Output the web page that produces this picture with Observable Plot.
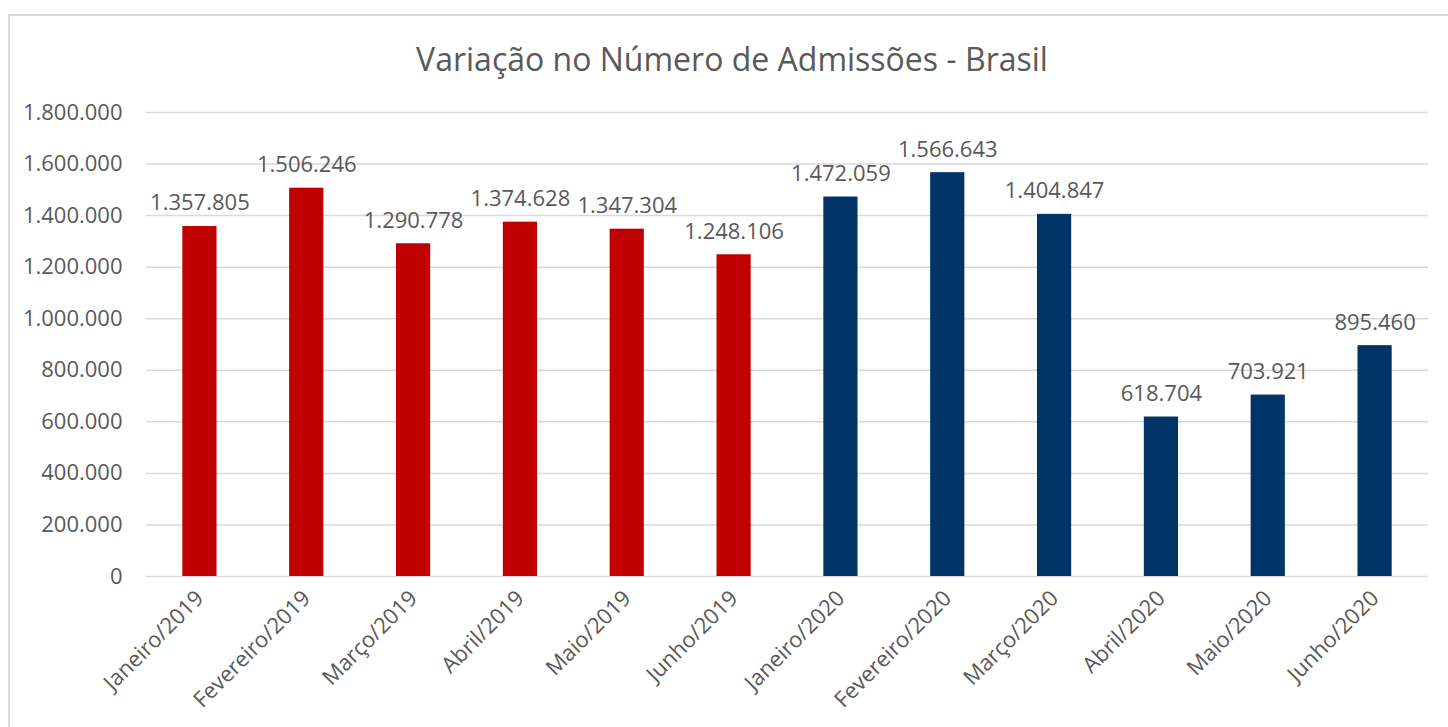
<!DOCTYPE html>
<html>
<head>
<meta charset="utf-8">
<script src="https://cdn.jsdelivr.net/npm/d3@7"></script>
<script src="https://cdn.jsdelivr.net/npm/@observablehq/plot@0.6"></script>
<style>
  html, body { margin: 0; padding: 0; background: #fff; overflow: hidden; }
  #frame { position: absolute; left: 8px; top: 14px; width: 1460px; height: 760px; border: 2px solid #d9d9d9; box-sizing: border-box; }
  #title { position: absolute; left: 0; top: 37px; width: 1464px; text-align: center; font-family: "Open Sans", sans-serif; font-size: 32px; color: #595959; }
  #chart { position: absolute; left: 0; top: 90px; }
</style>
</head>
<body>
<div id="frame"></div>
<div id="title">Variação no Número de Admissões - Brasil</div>
<div id="chart"></div>
<script>
const months = ["Janeiro/2019","Fevereiro/2019","Março/2019","Abril/2019","Maio/2019","Junho/2019",
                "Janeiro/2020","Fevereiro/2020","Março/2020","Abril/2020","Maio/2020","Junho/2020"];
const values = [1357805, 1506246, 1290778, 1374628, 1347304, 1248106,
                1472059, 1566643, 1404847, 618704, 703921, 895460];
const years = ["2019","2019","2019","2019","2019","2019","2020","2020","2020","2020","2020","2020"];
const yTicks = [0, 200000, 400000, 600000, 800000, 1000000, 1200000, 1400000, 1600000, 1800000];
const yearColors = ["#C00000", "#003366"];

const data = months.map((m, i) => ({month: m, value: values[i], year: years[i]}));
const locale = d3.formatLocale({decimal: ",", thousands: ".", grouping: [3], currency: ["", ""]});
const fmt = locale.format(",d");

const plot = Plot.plot({
  width: 1448,
  height: 637,
  marginTop: 22,
  marginBottom: 151,
  marginLeft: 146,
  marginRight: 20,
  style: {fontFamily: "'Open Sans', sans-serif", fontSize: "22px", color: "#595959", background: "transparent"},
  x: {type: "band", domain: months, paddingInner: 0.68, paddingOuter: 0.34, round: false, label: null},
  y: {domain: [0, 1800000], label: null},
  color: {domain: ["2019", "2020"], range: yearColors},
  marks: [
    Plot.gridY(yTicks, {stroke: "#d9d9d9", strokeOpacity: 1, strokeWidth: 1.5}),
    Plot.barY(data, {x: "month", y: "value", fill: "year"}),
    Plot.text(data, {x: "month", y: "value", text: d => fmt(d.value), dy: -16, lineAnchor: "bottom", fill: "#595959", fontSize: 22}),
    Plot.axisY({ticks: yTicks, tickFormat: fmt, tickSize: 0, tickPadding: 24, label: null, fontSize: 22}),
    Plot.axisX({tickRotate: -45, tickSize: 0, tickPadding: 18, label: null, fontSize: 22})
  ]
});
document.getElementById("chart").appendChild(plot);
</script>
</body>
</html>
